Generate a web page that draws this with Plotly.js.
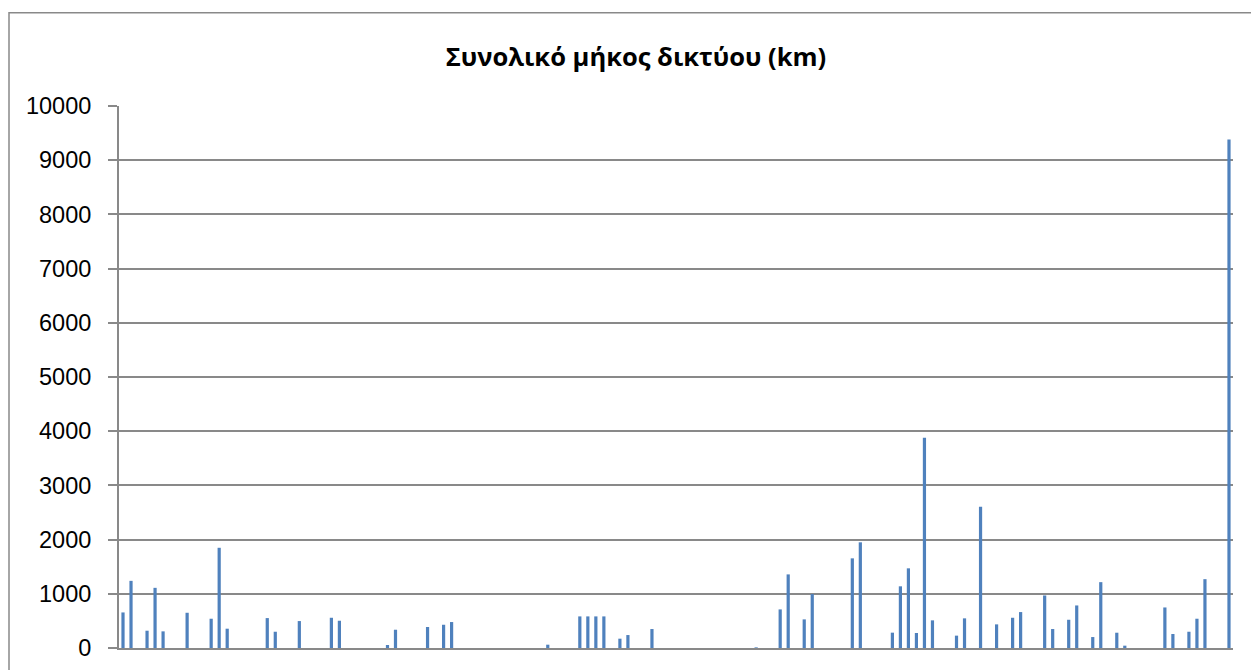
<!DOCTYPE html>
<html>
<head>
<meta charset="utf-8">
<script src="https://cdn.plot.ly/plotly-3.0.1.min.js"></script>
<style>
  html, body { margin: 0; padding: 0; background: #ffffff; }
  #chart { width: 1251px; height: 670px; }
</style>
</head>
<body>
<div id="chart"></div>
<script>
// Total network length (km) per entry, in chart order (139 entries)
const values = [
  656, 1239, 0, 319, 1110, 307, 0, 0, 650, 0,
  0, 540, 1849, 356, 0, 0, 0, 0, 552, 300,
  0, 0, 497, 0, 0, 0, 558, 503, 0, 0,
  0, 0, 0, 55, 337, 0, 0, 0, 387, 0,
  429, 479, 0, 0, 0, 0, 0, 0, 0, 0,
  0, 0, 0, 61, 0, 0, 0, 583, 583, 583,
  583, 0, 172, 239, 0, 0, 350, 0, 0, 0,
  0, 0, 0, 0, 0, 0, 0, 0, 0, 12,
  0, 0, 712, 1358, 0, 528, 995, 0, 0, 0,
  0, 1654, 1950, 0, 0, 0, 283, 1138, 1470, 277,
  3881, 510, 0, 0, 228, 547, 0, 2608, 0, 436,
  0, 558, 663, 0, 0, 969, 350, 0, 521, 785,
  0, 202, 1215, 0, 282, 43, 0, 0, 0, 0,
  748, 258, 0, 300, 540, 1270, 0, 0, 9380
];
const categories = values.map((v, i) => i + 1);
const yTickVals = [0, 1000, 2000, 3000, 4000, 5000, 6000, 7000, 8000, 9000, 10000];
const yTickText = ["0", "1000", "2000", "3000", "4000", "5000", "6000", "7000", "8000", "9000", "10000"];
const chartTitle = "Συνολικό μήκος δικτύου (km)";

const gray = "#898989";
const plotLeft = 119, plotRight = 1233, plotTop = 106, plotBottom = 648;
const W = 1251, H = 670;

const trace = {
  type: "bar",
  x: categories,
  y: values,
  marker: { color: "#4F81BD", line: { width: 0 } },
  hoverinfo: "x+y"
};

const pw = plotRight - plotLeft, ph = plotBottom - plotTop;
const layout = {
  width: W,
  height: H,
  margin: { l: plotLeft, r: W - plotRight, t: plotTop, b: H - plotBottom, pad: 0 },
  paper_bgcolor: "#ffffff",
  plot_bgcolor: "#ffffff",
  showlegend: false,
  bargap: 0.6,
  title: {
    text: "<b>" + chartTitle + "</b>",
    font: { family: "Open Sans, sans-serif", size: 25.5, color: "#000000" },
    x: 636 / W,
    xanchor: "center",
    y: 1 - 57 / H,
    yanchor: "middle",
    xref: "container",
    yref: "container"
  },
  xaxis: {
    range: [0.5, categories.length + 0.5],
    showticklabels: false,
    showgrid: false,
    zeroline: false,
    showline: true,
    linecolor: gray,
    linewidth: 2,
    ticks: "",
    fixedrange: true
  },
  yaxis: {
    range: [0, 10000],
    tickmode: "array",
    tickvals: yTickVals,
    ticktext: yTickText,
    ticks: "outside",
    ticklen: 9,
    tickwidth: 2,
    tickcolor: gray,
    showgrid: true,
    gridcolor: gray,
    gridwidth: 2,
    zeroline: false,
    showline: true,
    linecolor: gray,
    linewidth: 2,
    tickfont: { family: "Liberation Sans, Arial, sans-serif", size: 23.5, color: "#000000" },
    ticklabelstandoff: 12,
    fixedrange: true
  },
  shapes: [{
    type: "rect",
    xref: "paper", yref: "paper",
    x0: (9 - plotLeft) / pw,
    x1: (1265 - plotLeft) / pw,
    y0: (plotBottom - 700) / ph,
    y1: (plotBottom - 12.7) / ph,
    line: { color: gray, width: 1.5 },
    fillcolor: "rgba(0,0,0,0)",
    layer: "above"
  }]
};

Plotly.newPlot("chart", [trace], layout, { displayModeBar: false, staticPlot: true });
</script>
</body>
</html>
